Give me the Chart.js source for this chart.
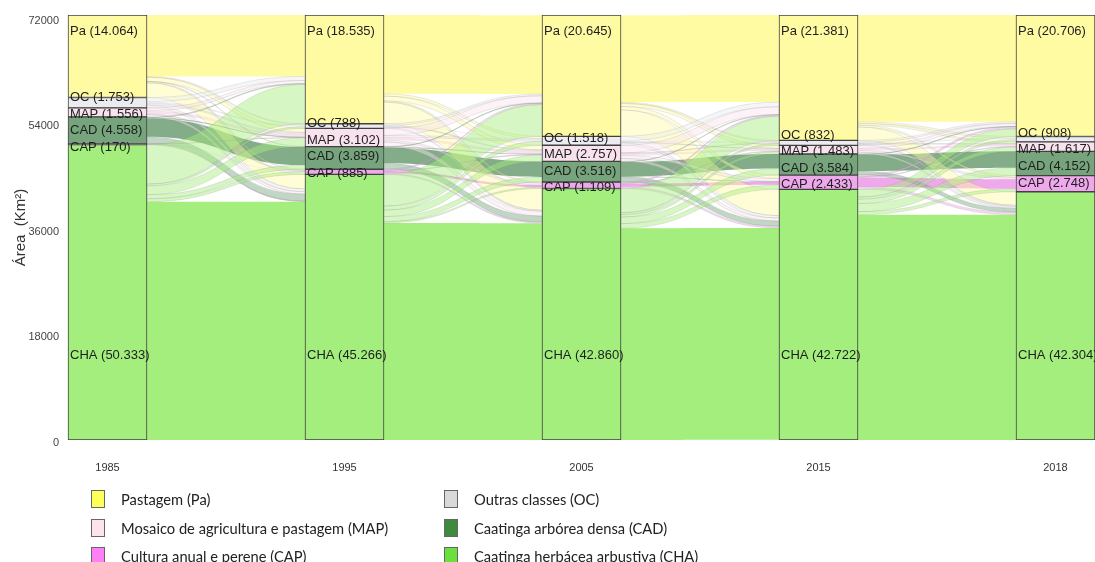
<!DOCTYPE html>
<html>
<head>
<meta charset="utf-8">
<script src="https://cdn.jsdelivr.net/npm/chart.js@4/dist/chart.umd.min.js"></script>
<style>
  body { margin: 0; background: #fff; }
  #wrap { position: relative; width: 1095px; height: 562px; }
  .leg { position: absolute; font: 14.7px Lato, "Liberation Sans", sans-serif; color: #222; white-space: nowrap; }
  .leg span.box { position: absolute; left: -30px; top: 0px; width: 12px; height: 16px; border: 1px solid #666; }
</style>
</head>
<body>
<div id="wrap">
  <canvas id="alluvial"></canvas>
</div>
<script>
// years and classes (classes listed top -> bottom of each bar)
const years = ["1985", "1995", "2005", "2015", "2018"];
const classes = ["Pa", "OC", "MAP", "CAD", "CAP", "CHA"];
const classNames = [
  "Pastagem (Pa)",
  "Outras classes (OC)",
  "Mosaico de agricultura e pastagem (MAP)",
  "Caatinga arbórea densa (CAD)",
  "Cultura anual e perene (CAP)",
  "Caatinga herbácea arbustiva (CHA)"
];

// area (km2) per year
const pa  = [14064, 18535, 20645, 21381, 20706];
const oc  = [1753, 788, 1518, 832, 908];
const map = [1556, 3102, 2757, 1483, 1617];
const cad = [4558, 3859, 3516, 3584, 4152];
const cap = [170, 885, 1109, 2433, 2748];
const cha = [50333, 45266, 42860, 42722, 42304];
const areas = [pa, oc, map, cad, cap, cha];

const yTicks = [0, 18000, 36000, 54000, 72000];

// transitions between consecutive years, rows = from, cols = to (Pa, OC, MAP, CAD, CAP, CHA)
const flow1985_1995 = [
  [10464, 150, 700, 50, 200, 2500],
  [700, 338, 250, 0, 0, 465],
  [500, 0, 506, 0, 150, 400],
  [150, 0, 100, 3108, 0, 1200],
  [0, 0, 40, 0, 50, 80],
  [6721, 300, 1506, 701, 485, 40620]
];
const flow1995_2005 = [
  [13435, 400, 800, 0, 200, 3700],
  [300, 138, 150, 0, 0, 200],
  [1200, 300, 502, 0, 300, 800],
  [100, 0, 100, 2659, 0, 1000],
  [200, 0, 100, 0, 385, 200],
  [5410, 680, 1105, 857, 224, 36990]
];
const flow2005_2015 = [
  [14845, 200, 500, 0, 600, 4500],
  [800, 218, 100, 0, 0, 400],
  [1300, 100, 357, 0, 500, 500],
  [100, 0, 0, 2466, 50, 900],
  [200, 0, 100, 0, 509, 300],
  [4136, 314, 426, 1118, 774, 36092]
];
const flow2015_2018 = [
  [18181, 300, 300, 0, 300, 2300],
  [300, 232, 100, 0, 0, 200],
  [500, 0, 383, 0, 300, 300],
  [100, 0, 0, 2784, 0, 700],
  [300, 0, 100, 0, 1633, 400],
  [1325, 376, 734, 1368, 515, 38404]
];
const flows = [flow1985_1995, flow1995_2005, flow2005_2015, flow2015_2018];

// colours
const fillColors = ["#fffba3", "#ececf0", "#f8e2ed", "#76a47c", "#f0a8ec", "#a3ee7d"];
const legendColors = ["#ffff5a", "#d9d9d9", "#fde3ee", "#3d8b3d", "#ff80f4", "#6ae03c"];

function fmt(v) {
  return String(v).replace(/\B(?=(\d{3})+(?!\d))/g, ".");
}

// value of the top edge of stratum k at year g
function stratumTop(k, g) {
  let s = 0;
  for (let m = k; m < classes.length; m++) s += areas[m][g];
  return s;
}

function hexA(hex, a) {
  const n = parseInt(hex.slice(1), 16);
  return `rgba(${n >> 16},${(n >> 8) & 255},${n & 255},${a})`;
}

// spread overlapping label centres evenly around their mean
function spread(centres, gap) {
  let groups = centres.map(c => ({ sum: c, n: 1 }));
  let changed = true;
  while (changed) {
    changed = false;
    for (let k = 0; k < groups.length - 1; k++) {
      const a = groups[k], b = groups[k + 1];
      const aEnd = a.sum / a.n + (a.n - 1) * gap / 2;
      const bStart = b.sum / b.n - (b.n - 1) * gap / 2;
      if (bStart - aEnd < gap) {
        groups.splice(k, 2, { sum: a.sum + b.sum, n: a.n + b.n });
        changed = true;
        break;
      }
    }
  }
  const out = [];
  groups.forEach(g => {
    const mid = g.sum / g.n;
    for (let i = 0; i < g.n; i++) out.push(mid + (i - (g.n - 1) / 2) * gap);
  });
  return out;
}

const flowPlugin = {
  id: "flows",
  beforeDatasetsDraw(chart) {
    const { ctx, chartArea, scales: { x, y } } = chart;
    const half = chart.getDatasetMeta(0).data[0].width / 2;
    ctx.save();
    ctx.beginPath();
    ctx.rect(chartArea.left, chartArea.top, chartArea.width, chartArea.height);
    ctx.clip();
    flows.forEach((m, g) => {
      const x0 = x.getPixelForValue(g) + half;
      const x1 = x.getPixelForValue(g + 1) - half;
      const xm = (x0 + x1) / 2;
      const lc = classes.map((c, k) => stratumTop(k, g));
      const rc = classes.map((c, k) => stratumTop(k, g + 1));
      const pieces = [];
      for (let i = 0; i < classes.length; i++) {
        for (let j = 0; j < classes.length; j++) {
          const v = m[i][j];
          if (!v) continue;
          pieces.push({ i, j, l0: lc[i], l1: lc[i] - v, r0: rc[j], r1: rc[j] - v });
          lc[i] -= v;
          rc[j] -= v;
        }
      }
      const drawPiece = p => {
        const a = y.getPixelForValue(p.l0), b = y.getPixelForValue(p.l1);
        const c = y.getPixelForValue(p.r0), d = y.getPixelForValue(p.r1);
        ctx.beginPath();
        ctx.moveTo(x0, a);
        ctx.bezierCurveTo(xm, a, xm, c, x1, c);
        ctx.lineTo(x1, d);
        ctx.bezierCurveTo(xm, d, xm, b, x0, b);
        ctx.closePath();
      };
      // flows that keep their class first, then the changes on top
      pieces.filter(p => p.i === p.j).forEach(p => {
        drawPiece(p);
        ctx.fillStyle = p.i === 3 ? hexA(fillColors[p.i], 0.9) : fillColors[p.i];
        ctx.fill();
      });
      pieces.filter(p => p.i !== p.j).forEach(p => {
        drawPiece(p);
        ctx.fillStyle = hexA(fillColors[p.i], 0.45);
        ctx.fill();
        ctx.strokeStyle = "rgba(120,120,120,0.22)";
        ctx.lineWidth = 0.7;
        ctx.stroke();
      });
    });
    ctx.restore();
  },
  afterDatasetsDraw(chart) {
    const { ctx, chartArea, scales: { x, y } } = chart;
    const half = chart.getDatasetMeta(0).data[0].width / 2;
    ctx.save();
    ctx.font = "13px 'Liberation Sans', Arial, sans-serif";
    ctx.fillStyle = "#1e1e1e";
    ctx.textBaseline = "middle";
    ctx.textAlign = "left";
    years.forEach((yr, g) => {
      const left = x.getPixelForValue(g) - half + 2;
      const tops = classes.map((c, k) => y.getPixelForValue(stratumTop(k, g)));
      const centres = [1, 2, 3, 4].map(k => y.getPixelForValue(stratumTop(k, g) - areas[k][g] / 2));
      const pos = spread(centres, 16.5);
      ctx.fillText(`${classes[0]} (${fmt(areas[0][g])})`, left, tops[0] + 16);
      [1, 2, 3, 4].forEach((k, n) => ctx.fillText(`${classes[k]} (${fmt(areas[k][g])})`, left, pos[n]));
      ctx.fillText(`${classes[5]} (${fmt(areas[5][g])})`, left, chartArea.bottom - 85);
    });
    ctx.restore();
  }
};

// datasets stacked from the bottom: CHA first, Pa last
const datasets = classes.map((c, k) => ({
  label: classNames[k],
  data: years.map((yr, g) => ({ x: g, y: areas[k][g] })),
  backgroundColor: fillColors[k],
  borderColor: "#404040",
  borderWidth: 1,
  borderSkipped: false,
  barThickness: 79
})).reverse();

new Chart(document.getElementById("alluvial"), {
  type: "bar",
  data: { datasets },
  plugins: [flowPlugin],
  options: {
    responsive: true,
    maintainAspectRatio: false,
    animation: false,
    layout: { padding: { top: 15, left: 0, right: 0, bottom: 0 } },
    plugins: { legend: { display: false }, tooltip: { enabled: false } },
    scales: {
      x: {
        type: "linear",
        stacked: true,
        offset: false,
        min: -0.192,
        max: 4.1667,
        grid: { display: false, drawTicks: false, offset: false },
        border: { display: false },
        afterBuildTicks: s => { s.ticks = years.map((yr, g) => ({ value: g })); },
        afterFit: s => { s.height = 122; },
        ticks: {
          padding: 21,
          autoSkip: false,
          maxRotation: 0,
          color: "#333",
          font: { family: "'Liberation Sans Narrow', 'Liberation Sans', sans-serif", size: 11 },
          callback: v => years[v]
        }
      },
      y: {
        stacked: true,
        min: 0,
        max: 72435,
        grid: { display: false, drawTicks: false },
        border: { display: false },
        afterBuildTicks: s => { s.ticks = yTicks.map(v => ({ value: v })); },
        afterFit: s => { s.width = 62; },
        ticks: {
          padding: 3,
          labelOffset: 3,
          color: "#444",
          font: { family: "'Liberation Sans', Arial, sans-serif", size: 11 },
          callback: v => String(v)
        },
        title: {
          display: true,
          text: "Área  (Km²)",
          color: "#333",
          padding: { top: 12, bottom: 0 },
          font: { family: "'Liberation Sans', Arial, sans-serif", size: 15 }
        }
      }
    }
  }
});

// legend below the chart, two columns
const wrap = document.getElementById("wrap");
const legendOrder = [0, 2, 4, 1, 3, 5];
legendOrder.forEach((k, n) => {
  const col = Math.floor(n / 3), row = n % 3;
  const d = document.createElement("div");
  d.className = "leg";
  d.style.left = (col === 0 ? 121 : 474) + "px";
  d.style.top = (490 + row * 28.5) + "px";
  d.innerHTML = `<span class="box" style="background:${legendColors[k]}"></span>${classNames[k]}`;
  wrap.appendChild(d);
});
</script>
</body>
</html>
